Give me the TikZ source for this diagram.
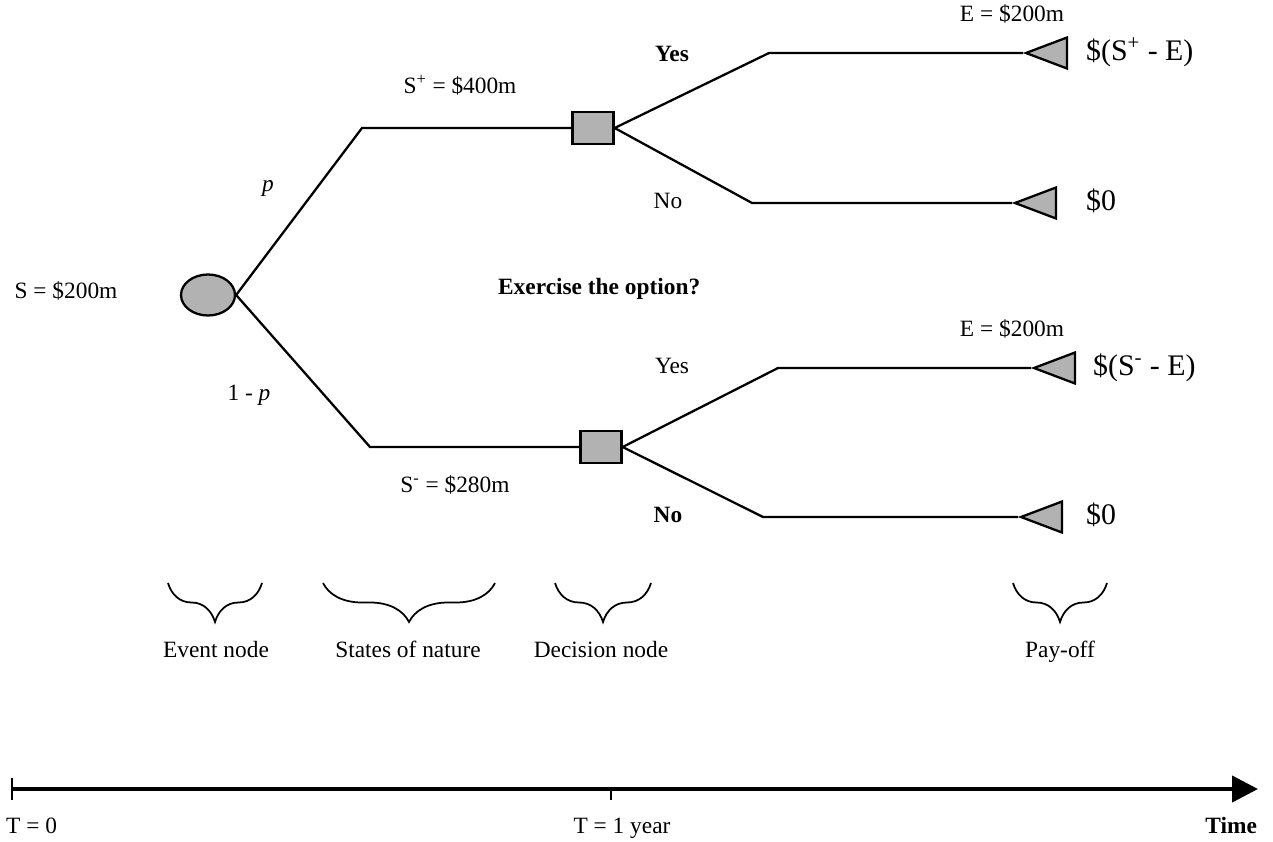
\documentclass[tikz,border=0pt]{standalone}
\usepackage{fontspec}
\setmainfont{Liberation Serif}
\usetikzlibrary{shapes.geometric,arrows.meta,decorations.pathreplacing}
\begin{document}
\begin{tikzpicture}[x=0.02cm, y=-0.02cm, line width=1.3pt,
  txt/.style={font=\fontsize{13.3}{15}\selectfont, inner sep=0pt, text height=9pt, text depth=2.5pt},
  big/.style={font=\fontsize{17}{19}\selectfont, inner sep=0pt, anchor=west, text height=12pt, text depth=3.5pt},
  event/.style={draw, ellipse, fill=gray!60, minimum width=1.08cm, minimum height=0.82cm, inner sep=0pt},
  decision/.style={draw, rectangle, fill=gray!60, minimum width=0.82cm, minimum height=0.64cm, inner sep=0pt},
  payoff/.style={draw, isosceles triangle, isosceles triangle stretches, shape border rotate=180, fill=gray!60, minimum width=0.62cm, minimum height=0.82cm, inner sep=0pt, anchor=apex},
  brc/.style={decorate, decoration={brace, mirror, amplitude=0.78cm}, line width=1pt}]
\useasboundingbox (0,0) rectangle (1273,841);

% nodes of the tree
\node[event] (ev) at (208,295) {};
\node[decision] (d1) at (593,128) {};
\node[decision] (d2) at (601,447) {};
\node[payoff] (pay1) at (1023,53) {};
\node[payoff] (pay2) at (1012,203) {};
\node[payoff] (pay3) at (1031,368) {};
\node[payoff] (pay4) at (1018,517) {};

\coordinate (up) at (362,128);
\coordinate (dn) at (370,447);
\coordinate (y1) at (769,53);
\coordinate (n1) at (752,203);
\coordinate (y2) at (778,368);
\coordinate (n2) at (763,517);

\draw (ev.east) -- (up) -- (d1);
\draw (ev.east) -- (dn) -- (d2);
\draw (d1.east) -- (y1) -- (pay1.apex);
\draw (d1.east) -- (n1) -- (pay2.apex);
\draw (d2.east) -- (y2) -- (pay3.apex);
\draw (d2.east) -- (n2) -- (pay4.apex);

% labels
\node[txt] (s0) at (66,293) {S = \$200m};
\node[txt] (pl) at (268,186) {\textit{p}};
\node[txt] (ql) at (249,395) {1 - \textit{p}};
\node[txt] (splus) at (460,88) {S\textsuperscript{+} = \$400m};
\node[txt] (sminus) at (455,487) {S\textsuperscript{-} = \$280m};
\node[txt, font=\fontsize{13.3}{15}\selectfont\bfseries] (yes1) at (672,56) {Yes};
\node[txt] (no1) at (668,203) {No};
\node[txt] (yes2) at (672,368) {Yes};
\node[txt, font=\fontsize{13.3}{15}\selectfont\bfseries] (no2) at (668,517) {No};
\node[txt] (e1) at (1012,16) {E = \$200m};
\node[txt] (e2) at (1012,331) {E = \$200m};
\node[txt, anchor=west, font=\fontsize{13.3}{15}\selectfont\bfseries] (ask) at (497,289) {Exercise the option?};
\node[big] (v1) at (1085,53) {\$(S\textsuperscript{+} - E)};
\node[big] (v2) at (1085,203) {\$0};
\node[big] (v3) at (1092,368) {\$(S\textsuperscript{-} - E)};
\node[big] (v4) at (1085,517) {\$0};

% braces
\draw[brc] (168,583) -- (262,583);
\draw[brc] (323,583) -- (495,583);
\draw[brc] (555,583) -- (651,583);
\draw[brc] (1013,583) -- (1107,583);
\node[txt] (evn) at (216,652) {Event node};
\node[txt] (son) at (408,652) {States of nature};
\node[txt] (dcn) at (601,652) {Decision node};
\node[txt] (pof) at (1060,652) {Pay-off};

% time axis
\coordinate (t0) at (12,789);
\coordinate (tend) at (1258,789);
\draw[line width=2.4pt, -{Triangle[length=0.52cm,width=0.52cm]}] (t0) -- (tend);
\draw[line width=1pt] (12,778) -- (12,800);
\draw[line width=1pt] (611,789) -- (611,800);
\node[txt, anchor=west] (tz) at (5,828) {T = 0};
\node[txt] (t1) at (622,828) {T = 1 year};
\node[txt, anchor=east, font=\fontsize{13.3}{15}\selectfont\bfseries] (tm) at (1258,828) {Time};
\end{tikzpicture}
\end{document}
